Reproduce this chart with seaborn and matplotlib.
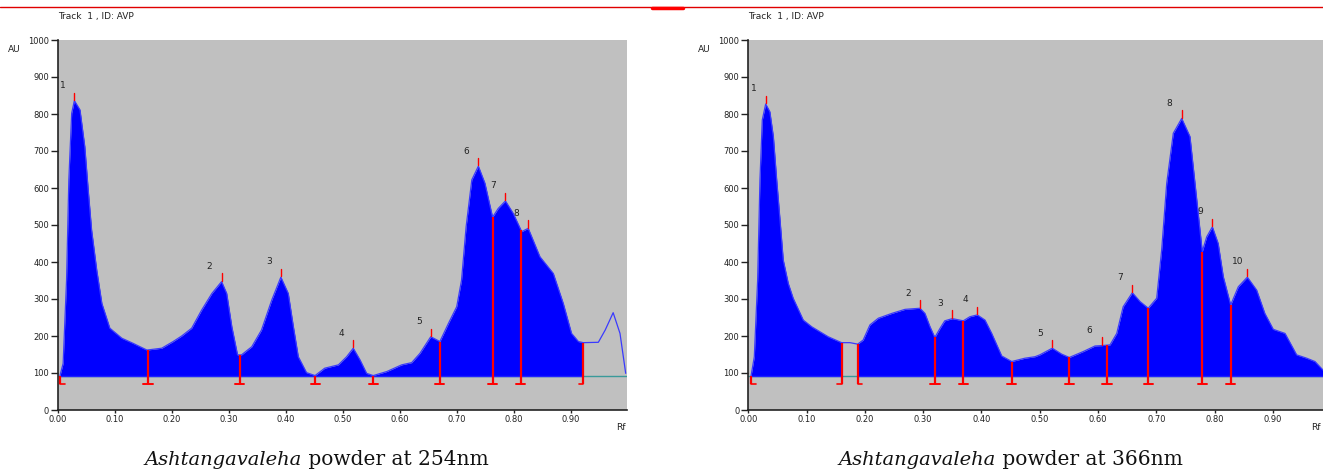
import numpy as np
import matplotlib
matplotlib.use('Agg')
import matplotlib.pyplot as plt
from matplotlib.lines import Line2D
import seaborn as sns

# ---- densitogram at 254 nm (Rf, AU) ----
rf_254 = [0.0035, 0.009, 0.015, 0.019, 0.024, 0.0287, 0.0386, 0.047, 0.053, 0.059,
          0.068, 0.077, 0.091, 0.112, 0.132, 0.156, 0.182, 0.202, 0.217, 0.2345,
          0.252, 0.27, 0.287, 0.296, 0.305, 0.315, 0.322, 0.34, 0.357, 0.375,
          0.391, 0.404, 0.413, 0.4216, 0.436, 0.451, 0.468, 0.492, 0.5064, 0.518,
          0.53, 0.5415, 0.553, 0.577, 0.603, 0.6205, 0.635, 0.654, 0.670, 0.685,
          0.6995, 0.708, 0.716, 0.726, 0.7375, 0.749, 0.7625, 0.7725, 0.785, 0.7988,
          0.8135, 0.825, 0.8456, 0.869, 0.8865, 0.901, 0.913, 0.9216, 0.948, 0.96,
          0.974, 0.986, 0.996]
au_254 = [93, 126, 351, 622, 802, 836, 811, 712, 595, 486,
          378, 288, 221, 194, 180, 162, 167, 185, 200, 221,
          270, 315, 347, 315, 225, 149, 149, 171, 216, 297,
          359, 315, 225, 144, 101, 93, 113, 122, 144, 167,
          135, 99, 93, 104, 122, 128, 153, 198, 185, 234,
          279, 351, 495, 622, 659, 613, 521, 545, 565, 531,
          482, 491, 414, 369, 288, 207, 185, 182, 183, 216,
          263, 207, 99]
peaks_254 = [0.0287, 0.287, 0.391, 0.518, 0.654, 0.7375, 0.785, 0.825]
bounds_254 = [0.0035, 0.158, 0.319, 0.451, 0.553, 0.670, 0.763, 0.812, 0.9216]
segments_254 = [(0.0035, 0.9216)]

# ---- densitogram at 366 nm ----
rf_366 = [0.0046, 0.0103, 0.016, 0.020, 0.024, 0.0298, 0.037, 0.043, 0.0487, 0.0544,
          0.060, 0.0686, 0.077, 0.0943, 0.1087, 0.137, 0.160, 0.1745, 0.1876, 0.197,
          0.2087, 0.223, 0.246, 0.2688, 0.2945, 0.303, 0.3117, 0.320, 0.329, 0.337,
          0.350, 0.3688, 0.380, 0.3928, 0.406, 0.4175, 0.4347, 0.4518, 0.4746, 0.4918,
          0.50, 0.5214, 0.5375, 0.5506, 0.5746, 0.5947, 0.606, 0.6205, 0.632, 0.643,
          0.6587, 0.672, 0.686, 0.7005, 0.709, 0.7177, 0.729, 0.7434, 0.7576, 0.7662,
          0.7787, 0.7863, 0.796, 0.806, 0.8148, 0.8274, 0.8405, 0.856, 0.872, 0.886,
          0.9005, 0.9206, 0.9406, 0.9578, 0.972, 0.9857, 0.997]
au_366 = [91, 144, 351, 622, 784, 827, 806, 739, 622, 514,
          405, 342, 302, 243, 225, 198, 182, 182, 178, 189,
          230, 248, 261, 272, 275, 261, 225, 196, 221, 241,
          247, 241, 252, 257, 243, 207, 146, 131, 140, 144,
          149, 167, 151, 142, 158, 173, 174, 176, 207, 279,
          317, 293, 275, 302, 432, 613, 748, 788, 739, 613,
          428, 468, 495, 450, 360, 284, 333, 359, 324, 261,
          218, 207, 149, 140, 131, 108, 95]
peaks_366 = [0.0298, 0.2945, 0.350, 0.3928, 0.5214, 0.606, 0.6587, 0.7434, 0.796, 0.856]
bounds_366 = [0.0046, 0.160, 0.1876, 0.320, 0.3688, 0.4518, 0.5506, 0.6155, 0.686, 0.7787, 0.8274]
bound_kind_366 = ['start', 'end', 'start', 'both', 'both', 'both', 'both', 'both', 'both', 'both', 'both']
segments_366 = [(0.0046, 0.160), (0.1876, 0.997)]

baseline_au = 92
captions = ['254nm', '366nm']

W, H = 1323, 470
sns.set_style('ticks')
plt.rcParams['font.family'] = ['DejaVu Sans']

fig = plt.figure(figsize=(W / 100, H / 100), dpi=100)
fig.patch.set_facecolor('white')


def px(x):
    return x / W


def py(y):
    return 1 - y / H


def draw_panel(ax, rf, au, peaks, bounds, kinds, segments):
    rf = np.asarray(rf)
    au = np.asarray(au, dtype=float)
    ax.set_facecolor('#c0c0c0')
    ax.set_xlim(0, 0.9974)
    ax.set_ylim(0, 1000)

    # baseline
    ax.axhline(baseline_au, color='#3a9a9a', lw=1, zorder=1)
    for a, b in segments:
        mask = (rf >= a - 1e-9) & (rf <= b + 1e-9)
        ax.fill_between(rf, baseline_au, au, where=mask, color='#0000ff', lw=0, zorder=2)
        ax.plot([a, b], [baseline_au, baseline_au], color='#2020ff', lw=1, zorder=2)
    sns.lineplot(x=rf, y=au, ax=ax, color='#3a3aff', lw=0.9, zorder=3, estimator=None, sort=False)

    # integration boundaries
    bot = 70
    hw = 0.008
    for b, k in zip(bounds, kinds):
        top = np.interp(b, rf, au)
        ax.plot([b, b], [bot, top], color='#ff0000', lw=1.6, zorder=4, solid_capstyle='butt')
        if k == 'start':
            ax.plot([b, b + hw], [bot, bot], color='#ff0000', lw=1.2, zorder=4)
        elif k == 'end':
            ax.plot([b - hw, b], [bot, bot], color='#ff0000', lw=1.2, zorder=4)
        else:
            ax.plot([b - hw, b + hw], [bot, bot], color='#ff0000', lw=1.4, zorder=4)

    # peak maxima marks and numbers
    for i, p in enumerate(peaks):
        h = np.interp(p, rf, au)
        ax.plot([p, p], [h + 2, h + 22], color='#ff0000', lw=1, zorder=4)
        dx = -0.016 if i + 1 >= 10 else -0.021
        ax.text(p + dx, h + 41, str(i + 1), fontsize=6.5, ha='center', va='center', color='#222222')

    ax.set_xticks(np.arange(0, 0.95, 0.1))
    ax.set_xticklabels([f'{t:.2f}' for t in np.arange(0, 0.95, 0.1)])
    ax.set_yticks(np.arange(0, 1001, 100))
    ax.set_yticklabels([str(v) for v in range(0, 1001, 100)])
    ax.tick_params(axis='y', length=5, width=1, pad=1.5, labelsize=6, colors='#222222')
    ax.tick_params(axis='x', length=2, width=1, pad=1.5, labelsize=6, colors='#222222')
    for s in ['top', 'right']:
        ax.spines[s].set_visible(False)
    for s in ['left', 'bottom']:
        ax.spines[s].set_color('#222222')
        ax.spines[s].set_linewidth(1.2)
    ax.set_xlabel('')
    ax.set_ylabel('')


# left panel
ax1 = fig.add_axes([px(58), py(410), px(626.5 - 58), 370 / H])
draw_panel(ax1, rf_254, au_254, peaks_254, bounds_254,
           ['start'] + ['both'] * (len(bounds_254) - 2) + ['end'], segments_254)

# right panel (runs past the right edge of the figure)
ax2 = fig.add_axes([px(748.3), py(410), px(0.9974 * 583), 370 / H])
draw_panel(ax2, rf_366, au_366, peaks_366, bounds_366, bound_kind_366, segments_366)

for x0, rf_x in [(58, 626), (748.3, 1321)]:
    fig.text(px(x0), py(17), 'Track  1 , ID: AVP', fontsize=6.5, ha='left', va='center', color='#222222')
    fig.text(px(x0 - 50), py(49), 'AU', fontsize=6.5, ha='left', va='center', color='#222222')
    fig.text(px(rf_x), py(428), 'Rf', fontsize=6.5, ha='right', va='center', color='#222222')

# captions
for split_x, wl in [(301.5, captions[0]), (996, captions[1])]:
    fig.text(px(split_x), py(465), 'Ashtangavaleha', fontsize=14, style='italic',
             family='DejaVu Serif', ha='right', va='baseline', color='#111111')
    fig.text(px(split_x), py(465), ' powder at ' + wl, fontsize=14.5,
             family='DejaVu Serif', ha='left', va='baseline', color='#111111')

# red rule at the top
fig.add_artist(Line2D([0, 1], [py(7), py(7)], color='#e00000', lw=1))
fig.add_artist(Line2D([px(652), px(683)], [py(7.5), py(7.5)], color='#ff0000', lw=2.5))

fig.savefig('out.png', dpi=100)
